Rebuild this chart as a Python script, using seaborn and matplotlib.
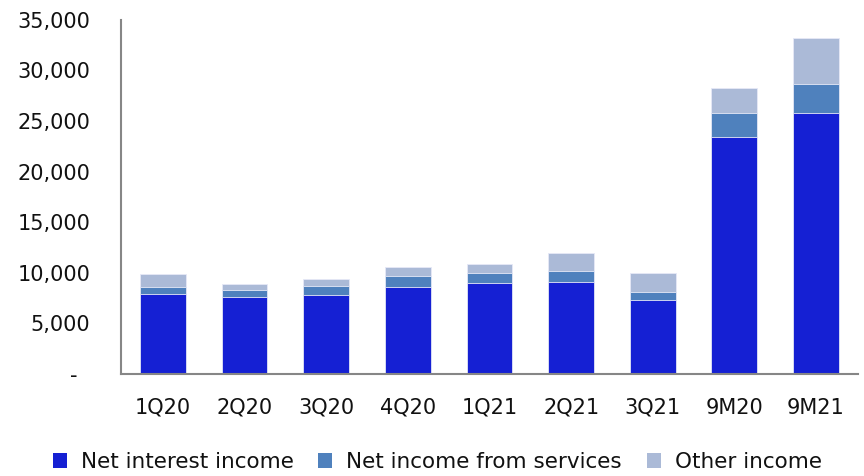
import matplotlib
matplotlib.use("Agg")
import matplotlib.pyplot as plt
from matplotlib.patches import Patch
from matplotlib.ticker import FuncFormatter
import numpy as np
import pandas as pd
import seaborn as sns

# Quarterly and nine-month income breakdown
periods = ["1Q20", "2Q20", "3Q20", "4Q20", "1Q21", "2Q21", "3Q21", "9M20", "9M21"]
net_interest_income = [7920, 7590, 7760, 8580, 9000, 9070, 7330, 23470, 25770]
net_income_services = [660, 690, 920, 1080, 960, 1090, 790, 2330, 2850]
other_income = [1280, 600, 720, 920, 950, 1770, 1910, 2430, 4580]

series_names = ["Net interest income", "Net income from services", "Other income"]
series_colors = ["#1520d3", "#4f81bd", "#abbad7"]

sns.set_theme(style="white")
plt.rcParams["font.family"] = ["DejaVu Sans"]

df = pd.DataFrame({
    "period": periods,
    "nii": net_interest_income,
    "svc": net_income_services,
    "oth": other_income,
})
df["lvl1"] = df["nii"]
df["lvl2"] = df["nii"] + df["svc"]
df["lvl3"] = df["lvl2"] + df["oth"]

fig = plt.figure(figsize=(8.64, 4.76), dpi=100)
ax = fig.add_axes([0.140, 0.2143, 0.853, 0.744])

# Stack by overdrawing cumulative totals, tallest first
for col, color in zip(["lvl3", "lvl2", "lvl1"], series_colors[::-1]):
    sns.barplot(data=df, x="period", y=col, color=color, width=0.56,
                saturation=1, edgecolor="#e6e9f7", linewidth=0.6, ax=ax)

ax.set_ylim(0, 35000)
ax.set_xlim(-0.515, 8.515)
ax.set_yticks(np.arange(0, 35001, 5000))
ax.yaxis.set_major_formatter(FuncFormatter(lambda v, p: "-  " if v == 0 else f"{int(v):,}"))
ax.set_xlabel("")
ax.set_ylabel("")

for side in ["top", "right"]:
    ax.spines[side].set_visible(False)
for side in ["left", "bottom"]:
    ax.spines[side].set_color("#868686")
    ax.spines[side].set_linewidth(1.5)

ax.tick_params(axis="y", length=0, pad=22, labelsize=15, labelcolor="#111111")
ax.tick_params(axis="x", length=0, pad=17, labelsize=15, labelcolor="#111111")

handles = [Patch(facecolor=c, edgecolor="none", label=n) for n, c in zip(series_names, series_colors)]
fig.legend(handles=handles, loc="center", bbox_to_anchor=(0.506, 0.029), ncol=3,
           frameon=False, fontsize=15.5, handlelength=0.65, handleheight=0.65,
           handletextpad=0.65, columnspacing=1.15, labelcolor="#111111")

fig.savefig("out.png", dpi=100)
